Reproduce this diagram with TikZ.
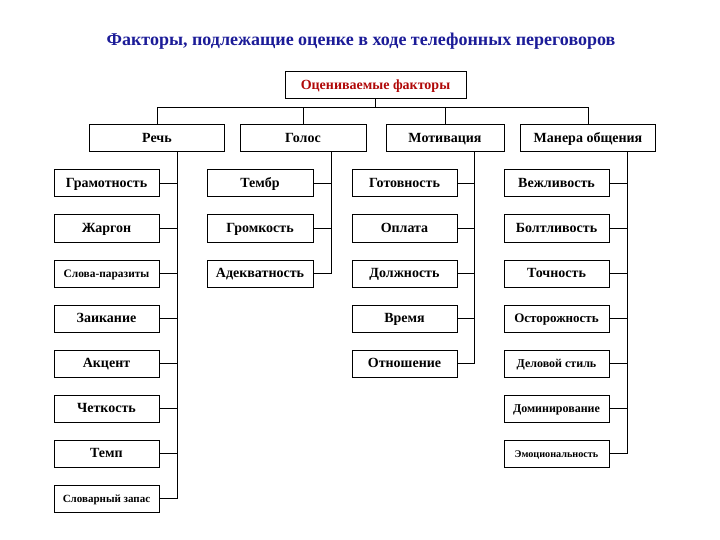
\documentclass[tikz,border=0pt]{standalone}
\usepackage{fontspec}
\setmainfont{Liberation Serif}
\usepackage{xcolor}
\definecolor{TitleBlue}{HTML}{1C1C98}
\definecolor{FactorRed}{HTML}{B00808}

\begin{document}
\begin{tikzpicture}[x=1pt, y=-1pt,
  every node/.style={font=\bfseries\fontsize{14}{16}\selectfont, inner sep=0pt},
  factor/.style={draw, line width=1pt, minimum width=135pt, minimum height=27pt, text height=0.9em, text depth=0.05em},
  item/.style={draw, line width=1pt, minimum width=105pt, minimum height=27pt, text height=0.9em, text depth=0.05em},
  link/.style={line width=1pt}]
\useasboundingbox (0,0) rectangle (720,540);
\node[font=\bfseries\fontsize{18}{20}\selectfont, TitleBlue] (title) at (361,41) {Факторы, подлежащие оценке в ходе телефонных переговоров};
\node[factor, minimum width=181pt, text=FactorRed] (root) at (375.5,85) {Оцениваемые факторы};
% factor groups
\node[factor] (rech) at (157,138.5) {Речь};
\node[factor, minimum width=126pt] (golos) at (303,138.5) {Голос};
\node[factor, minimum width=118pt] (motiv) at (445,138.5) {Мотивация};
\node[factor] (manera) at (588,138.5) {Манера общения};
\coordinate (bus) at (375.5,107.5);
\draw[link] (root.south) -- (bus);
\draw[link] (bus) -| (rech.north);
\draw[link] (bus) -| (golos.north);
\draw[link] (bus) -| (motiv.north);
\draw[link] (bus) -| (manera.north);
% speech
\node[item] (gram) at (106.5,183.5) {Грамотность};
\node[item] (zhargon) at (106.5,228.5) {Жаргон};
\node[item, font=\bfseries\fontsize{11.4}{13}\selectfont] (parazit) at (106.5,273.5) {Слова-паразиты};
\node[item] (zaik) at (106.5,318.5) {Заикание};
\node[item] (akcent) at (106.5,363.5) {Акцент};
\node[item] (chetk) at (106.5,408.5) {Четкость};
\node[item] (temp) at (106.5,453.5) {Темп};
\node[item, font=\bfseries\fontsize{11}{13}\selectfont] (slovar) at (106.5,498.5) {Словарный запас};
\coordinate (rechS) at (177,152);
\draw[link] (rechS) |- (slovar.east);
\draw[link] (gram.east) -- (gram.east -| rechS);
\draw[link] (zhargon.east) -- (zhargon.east -| rechS);
\draw[link] (parazit.east) -- (parazit.east -| rechS);
\draw[link] (zaik.east) -- (zaik.east -| rechS);
\draw[link] (akcent.east) -- (akcent.east -| rechS);
\draw[link] (chetk.east) -- (chetk.east -| rechS);
\draw[link] (temp.east) -- (temp.east -| rechS);
% voice
\node[item, minimum width=106pt] (tembr) at (260,183.5) {Тембр};
\node[item, minimum width=106pt] (gromk) at (260,228.5) {Громкость};
\node[item, minimum width=106pt] (adekv) at (260,273.5) {Адекватность};
\coordinate (golosS) at (331,152);
\draw[link] (golosS) |- (adekv.east);
\draw[link] (tembr.east) -- (tembr.east -| golosS);
\draw[link] (gromk.east) -- (gromk.east -| golosS);
% motivation
\node[item] (gotov) at (404.5,183.5) {Готовность};
\node[item] (oplata) at (404.5,228.5) {Оплата};
\node[item] (dolzh) at (404.5,273.5) {Должность};
\node[item] (vremya) at (404.5,318.5) {Время};
\node[item] (otnosh) at (404.5,363.5) {Отношение};
\coordinate (motivS) at (474,152);
\draw[link] (motivS) |- (otnosh.east);
\draw[link] (gotov.east) -- (gotov.east -| motivS);
\draw[link] (oplata.east) -- (oplata.east -| motivS);
\draw[link] (dolzh.east) -- (dolzh.east -| motivS);
\draw[link] (vremya.east) -- (vremya.east -| motivS);
% manner
\node[item] (vezhl) at (556.5,183.5) {Вежливость};
\node[item] (boltl) at (556.5,228.5) {Болтливость};
\node[item] (tochn) at (556.5,273.5) {Точность};
\node[item, font=\bfseries\fontsize{13}{15}\selectfont] (ostor) at (556.5,318.5) {Осторожность};
\node[item, font=\bfseries\fontsize{12}{14}\selectfont] (delov) at (556.5,363.5) {Деловой стиль};
\node[item, font=\bfseries\fontsize{12}{14}\selectfont] (domin) at (556.5,408.5) {Доминирование};
\node[item, font=\bfseries\fontsize{10.2}{12}\selectfont] (emoc) at (556.5,453.5) {Эмоциональность};
\coordinate (maneraS) at (627,152);
\draw[link] (maneraS) |- (emoc.east);
\draw[link] (vezhl.east) -- (vezhl.east -| maneraS);
\draw[link] (boltl.east) -- (boltl.east -| maneraS);
\draw[link] (tochn.east) -- (tochn.east -| maneraS);
\draw[link] (ostor.east) -- (ostor.east -| maneraS);
\draw[link] (delov.east) -- (delov.east -| maneraS);
\draw[link] (domin.east) -- (domin.east -| maneraS);
\end{tikzpicture}
\end{document}
